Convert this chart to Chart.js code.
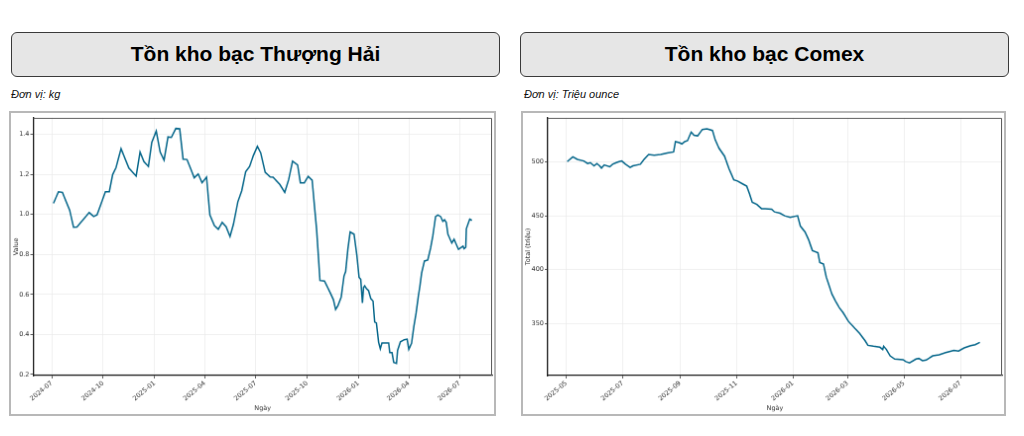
<!DOCTYPE html>
<html>
<head>
<meta charset="utf-8">
<script src="https://cdn.jsdelivr.net/npm/chart.js@4.4.1/dist/chart.umd.min.js"></script>
<style>
  body { margin: 0; background: #fff; width: 1024px; height: 436px; position: relative; overflow: hidden;
         font-family: "Liberation Sans", Arial, sans-serif; }
  .title { position: absolute; top: 32px; width: 487px; height: 43px; background: #e6e6e6;
           border: 1px solid #3a3a3a; border-radius: 6px; font-weight: bold; font-size: 21px;
           line-height: 41px; text-align: center; color: #000; }
  .unit { position: absolute; top: 88px; font-style: italic; font-size: 11px; color: #111; }
  canvas { position: absolute; top: 111px; border: 2px solid #b8b8b8; }
</style>
</head>
<body>
<div class="title" style="left:11px">Tồn kho bạc Thượng Hải</div>
<div class="title" style="left:520px">Tồn kho bạc Comex</div>
<div class="unit" style="left:11px">Đơn vị: kg</div>
<div class="unit" style="left:524px">Đơn vị: Triệu ounce</div>
<canvas id="shChart" width="487" height="305" style="left:9px"></canvas>
<canvas id="cmxChart" width="485" height="305" style="left:521px"></canvas>
<script>
// Thượng Hải
const shDates = ['2024-07-04','2024-07-13','2024-07-20','2024-08-02','2024-08-09','2024-08-15','2024-09-06','2024-09-14','2024-09-20',
  '2024-10-05','2024-10-12','2024-10-18','2024-10-24','2024-11-02','2024-11-16','2024-11-29','2024-12-06','2024-12-13','2024-12-21','2024-12-27',
  '2025-01-04','2025-01-11','2025-01-18','2025-01-25','2025-01-31','2025-02-08','2025-02-15','2025-02-21','2025-02-28','2025-03-13','2025-03-20','2025-03-27',
  '2025-04-04','2025-04-10','2025-04-18','2025-04-25','2025-05-02','2025-05-09','2025-05-16','2025-05-22','2025-05-30','2025-06-06','2025-06-13','2025-06-20','2025-06-27',
  '2025-07-04','2025-07-10','2025-07-18','2025-07-27','2025-08-01','2025-08-13','2025-08-22','2025-08-29','2025-09-05','2025-09-14','2025-09-19','2025-09-26',
  '2025-10-03','2025-10-10','2025-10-18','2025-10-24','2025-11-01','2025-11-11','2025-11-17','2025-11-21','2025-11-25','2025-12-01','2025-12-06','2025-12-09',
  '2025-12-13','2025-12-17','2025-12-24','2025-12-29','2026-01-02','2026-01-05','2026-01-08','2026-01-10','2026-01-12','2026-01-15','2026-01-19','2026-01-23',
  '2026-01-27','2026-01-30','2026-02-02','2026-02-06','2026-02-09','2026-02-12','2026-02-24','2026-02-26','2026-03-02','2026-03-05','2026-03-10','2026-03-12',
  '2026-03-17','2026-03-24','2026-03-29','2026-04-01','2026-04-06','2026-04-10','2026-04-14','2026-04-18','2026-04-21','2026-04-24','2026-04-29','2026-05-05',
  '2026-05-10','2026-05-14','2026-05-19','2026-05-23','2026-05-28','2026-06-01','2026-06-04','2026-06-07','2026-06-10','2026-06-17','2026-06-21','2026-06-29',
  '2026-07-07','2026-07-09','2026-07-12','2026-07-13','2026-07-19','2026-07-23'];
const shValues = [1.055,1.113,1.11,1.021,0.936,0.937,1.009,0.989,0.997,
  1.113,1.113,1.199,1.234,1.328,1.231,1.191,1.311,1.263,1.239,1.36,
  1.416,1.311,1.271,1.387,1.384,1.429,1.427,1.276,1.274,1.183,1.202,1.158,
  1.186,0.997,0.944,0.925,0.96,0.938,0.889,0.949,1.062,1.118,1.212,1.239,1.295,
  1.34,1.307,1.21,1.187,1.186,1.15,1.11,1.174,1.266,1.247,1.158,1.158,
  1.19,1.17,0.925,0.67,0.667,0.611,0.574,0.525,0.543,0.587,0.691,0.715,
  0.828,0.912,0.901,0.796,0.686,0.675,0.557,0.635,0.643,0.63,0.619,0.579,
  0.567,0.462,0.458,0.361,0.329,0.358,0.358,0.309,0.309,0.261,0.256,0.321,
  0.364,0.374,0.377,0.326,0.356,0.438,0.506,0.59,0.643,0.707,0.767,0.772,
  0.831,0.893,0.989,0.997,0.989,0.965,0.973,0.96,0.901,0.857,0.876,0.825,
  0.841,0.828,0.836,0.928,0.976,0.97];
const shXTicks = ['2024-07','2024-10','2025-01','2025-04','2025-07','2025-10','2026-01','2026-04','2026-07'];
const shYTicks = [0.2, 0.4, 0.6, 0.8, 1.0, 1.2, 1.4];

// Comex
const cmxDates = ['2025-05-02','2025-05-08','2025-05-13','2025-05-20','2025-05-24','2025-05-27','2025-05-31','2025-06-03','2025-06-06','2025-06-08',
  '2025-06-11','2025-06-17','2025-06-20','2025-06-24','2025-06-27','2025-06-30','2025-07-04','2025-07-09','2025-07-12','2025-07-20','2025-07-24','2025-07-29',
  '2025-08-04','2025-08-11','2025-08-18','2025-08-25','2025-08-27','2025-08-31','2025-09-03','2025-09-06','2025-09-09','2025-09-13','2025-09-16','2025-09-20',
  '2025-09-25','2025-09-30','2025-10-06','2025-10-09','2025-10-13','2025-10-19','2025-10-24','2025-10-29','2025-11-02','2025-11-07','2025-11-12','2025-11-15',
  '2025-11-18','2025-11-23','2025-11-28','2025-12-02','2025-12-09','2025-12-12','2025-12-18','2025-12-23','2025-12-29','2026-01-06','2026-01-09','2026-01-14',
  '2026-01-18','2026-01-22','2026-01-28','2026-01-30','2026-02-03','2026-02-06','2026-02-12','2026-02-16','2026-02-20','2026-02-24','2026-03-02','2026-03-09',
  '2026-03-14','2026-03-20','2026-03-23','2026-03-29','2026-04-05','2026-04-08','2026-04-09','2026-04-12','2026-04-16','2026-04-21','2026-04-30','2026-05-03',
  '2026-05-07','2026-05-14','2026-05-17','2026-05-21','2026-05-25','2026-06-01','2026-06-08','2026-06-15','2026-06-24','2026-06-29','2026-07-05','2026-07-12',
  '2026-07-17','2026-07-22'];
const cmxValues = [500.3,504.8,502.4,500.9,498.5,499.4,496.4,498.5,496.4,494.3,
  497.3,495.5,497.9,499.4,500.3,500.9,497.9,494.9,496.4,497.9,502.4,506.9,
  506.3,506.9,508.4,509.3,518.9,518,516.8,518.9,519.8,527.8,524.9,524.3,
  530.2,530.8,529.3,520.4,512.9,505.4,493.4,483.5,482.3,479.9,477.5,470.4,
  462.6,460.5,456.6,456.6,456,453.6,452.4,450,448.5,450,440.4,435,
  427.5,417.7,415.6,406.6,405.1,393.1,377.5,370.7,364.7,360.2,351.8,345.2,
  340.7,333.8,329.6,328.7,327.8,325.7,328.7,325.7,319.8,316.8,316.2,314.4,
  313.2,316.8,317.4,315.3,315.9,319.8,320.7,322.8,324.9,324.3,327.2,329.3,
  330.2,332.3];
const cmxXTicks = ['2025-05','2025-07','2025-09','2025-11','2026-01','2026-03','2026-05','2026-07'];
const cmxYTicks = [350, 400, 450, 500];

const toDay = s => {
  const p = s.split('-').map(Number);
  return Date.UTC(p[0], p[1] - 1, p[2] || 1) / 86400000;
};

const lineColor = '#05668a';
const tickFont = { family: 'DejaVu Sans', size: 6.5 };

const framePlugin = {
  id: 'frame',
  afterDraw(chart) {
    const { ctx, chartArea: a } = chart;
    ctx.save();
    ctx.strokeStyle = '#555';
    ctx.lineWidth = 1;
    ctx.beginPath();
    ctx.moveTo(a.left, a.top + 0.5);
    ctx.lineTo(a.right - 0.5, a.top + 0.5);
    ctx.lineTo(a.right - 0.5, a.bottom);
    ctx.stroke();
    ctx.restore();
  }
};

function makeChart(id, dates, values, xTicks, yTicks, xMin, xMax, yMin, yMax, yTitle, yWidth, yFmt) {
  new Chart(document.getElementById(id), {
    type: 'line',
    data: {
      datasets: [{
        data: dates.map((d, i) => ({ x: toDay(d), y: values[i] })),
        borderColor: lineColor,
        borderWidth: 1.5,
        pointRadius: 0,
        tension: 0,
        fill: false
      }]
    },
    options: {
      responsive: false,
      animation: false,
      layout: { padding: { top: 1, right: 2, left: 0, bottom: 0 } },
      plugins: { legend: { display: false }, tooltip: { enabled: false } },
      scales: {
        x: {
          type: 'linear',
          min: toDay(xMin),
          max: toDay(xMax),
          afterBuildTicks: s => { s.ticks = xTicks.map(t => ({ value: toDay(t) })); },
          afterFit: s => { s.height = 39; },
          ticks: {
            autoSkip: false, minRotation: 40, maxRotation: 40, padding: 1,
            font: tickFont, color: '#333',
            callback: (v, i) => xTicks[i]
          },
          grid: { color: '#ececec', lineWidth: 0.8, tickLength: 3, tickColor: '#333', tickWidth: 0.8 },
          border: { color: '#1a1a1a', width: 1.3 },
          title: { display: true, text: 'Ngày', font: tickFont, color: '#333', padding: { top: 0, bottom: 2 } }
        },
        y: {
          min: yMin,
          max: yMax,
          afterBuildTicks: s => { s.ticks = yTicks.map(v => ({ value: v })); },
          afterFit: s => { s.width = yWidth; },
          ticks: { font: tickFont, color: '#333', padding: 1, callback: v => yFmt(v) },
          grid: { color: '#ececec', lineWidth: 0.8, tickLength: 3, tickColor: '#333', tickWidth: 0.8 },
          border: { color: '#1a1a1a', width: 1.3 },
          title: { display: true, text: yTitle, font: tickFont, color: '#333', padding: { top: 1, bottom: 0 } }
        }
      }
    },
    plugins: [framePlugin]
  });
}

makeChart('shChart', shDates, shValues, shXTicks, shYTicks, '2024-05-29', '2026-08-28', 0.195, 1.482,
  'Value', 22.5, v => v.toFixed(1));
makeChart('cmxChart', cmxDates, cmxValues, cmxXTicks, cmxYTicks, '2025-04-11', '2026-08-15', 301.5, 541,
  'Total (triệu)', 25, v => String(v));
</script>
</body>
</html>
